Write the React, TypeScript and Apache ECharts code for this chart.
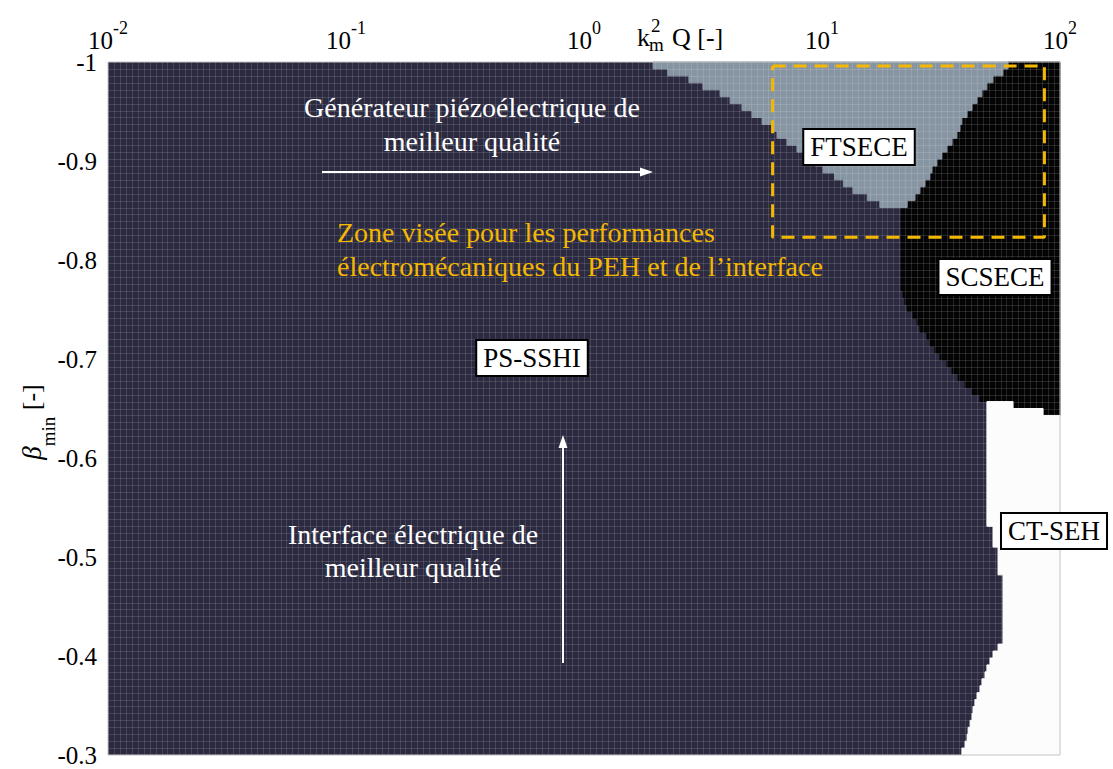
import React, { useEffect, useRef } from "react";
import * as echarts from "echarts";

// ---- axes ----
const kqMin = 0.01;
const kqMax = 100;
const betaMin = -1;
const betaMax = -0.3;
const betaTickStep = 0.1;

// ---- map grid resolution (100 rows in beta) ----
const rowStep = 0.007;
const rowCount = 100;
const colCount = 160;

// ---- region boundaries, one value of k²Q per beta row ----
// FTSECE : rows 0..20
const ftseceFirstRow = 0;
const ftseceLeft = [1.95, 2.25, 2.76, 3.16, 3.73, 4.11, 4.61, 5.08, 5.6, 6.17, 6.47, 7.13, 7.85, 8.65, 9.35, 10.1, 11.3, 12.3, 13.5, 15.5, 17.5];
const ftseceRight = [60.5, 57.6, 52.3, 49.3, 47.0, 44.8, 42.7, 40.7, 38.7, 38.0, 36.9, 35.2, 33.5, 31.9, 30.4, 29.0, 28.4, 27.1, 25.8, 24.6, 22.8];

// SCSECE : rows 0..50 (right edge = axis max)
const scseceFirstRow = 0;
const scseceLeft = [
  60.5, 57.6, 52.3, 49.3, 47.0, 44.8, 42.7, 40.7, 38.7, 38.0, 36.9, 35.2, 33.5, 31.9, 30.4, 29.0, 28.4, 27.1, 25.8, 24.6, 22.8,
  21.5, 21.5, 21.5, 21.5, 21.5, 21.5, 21.5, 21.5, 21.5, 21.5, 21.5, 21.5,
  21.9, 22.3, 22.8, 24.1, 25.1, 25.8, 27.6, 28.4, 29.8, 31.3, 33.5, 35.2, 37.3, 39.9, 42.7, 46.1,
  63.5, 84.9,
];

// CT-SEH : rows 49..99
const ctsehFirstRow = 49;
const ctsehLeft = [
  49.3, 49.3, 49.3, 49.3, 49.3, 49.3, 49.3, 49.3, 49.3, 49.3, 49.3, 49.3, 49.3, 49.3, 49.3, 49.3, 49.3, 49.3,
  52.3, 52.3, 52.3,
  54.9, 54.9, 54.9, 54.9,
  57.6, 57.6, 57.6, 57.6, 57.6, 57.6, 57.6, 57.6, 57.6, 57.6,
  54.9, 52.3, 50.8, 49.3, 48.4, 47.0, 46.1, 44.8, 43.9, 43.1, 42.7, 41.9, 41.1, 40.7, 39.9, 38.7,
];
const ctsehRightTop = [63.5, 84.9]; // rows 49, 50 (others reach axis max)

// ---- target zone (dashed rectangle) ----
const zoneKQ = [6.2, 86, 86, 6.2, 6.2];
const zoneBeta = [-0.996, -0.996, -0.823, -0.823, -0.996];

const NAVY = "#2b2a40";
const LIGHT = "#8794a2";
const BLACK = "#040404";
const WHITE = "#fcfcfc";
const ORANGE = "#F5B800";
const SERIF = '"Liberation Serif", "Times New Roman", serif';

function regionPoints(api: any, firstRow: number, left: number[], right: (number | undefined)[]) {
  const pts: number[][] = [];
  for (let i = 0; i < left.length; i++) {
    const b0 = betaMin + (firstRow + i) * rowStep;
    const b1 = betaMin + (firstRow + i + 1) * rowStep;
    pts.push(api.coord([left[i], b0]), api.coord([left[i], b1]));
  }
  for (let i = left.length - 1; i >= 0; i--) {
    const b0 = betaMin + (firstRow + i) * rowStep;
    const b1 = betaMin + (firstRow + i + 1) * rowStep;
    const r = right[i] !== undefined ? (right[i] as number) : kqMax;
    pts.push(api.coord([r, b1]), api.coord([r, b0]));
  }
  return pts;
}

function regionSeries(name: string, color: string, z: number, firstRow: number, left: number[], right: (number | undefined)[], stroke: boolean) {
  return {
    name,
    type: "custom",
    coordinateSystem: "cartesian2d",
    silent: true,
    z,
    data: [[1, -0.5]],
    renderItem: (_p: any, api: any) => ({
      type: "polygon",
      shape: { points: regionPoints(api, firstRow, left, right) },
      style: { fill: color, stroke: stroke ? color : null, lineWidth: stroke ? 1 : 0 },
    }),
  };
}

export default function App() {
  const ref = useRef<HTMLDivElement>(null);
  useEffect(() => {
    if (!ref.current) return;
    const chart = echarts.init(ref.current, undefined, { renderer: "svg" });

    const fullLeft: number[] = [];
    const fullRight: (number | undefined)[] = [];
    // PS-SSHI background spans every row of the map
    for (let i = 0; i < rowCount; i++) {
      fullLeft.push(kqMin);
      fullRight.push(kqMax);
    }

    const meshColor = "rgba(255,255,255,0.13)";

    const option: any = {
      animation: false,
      backgroundColor: "#ffffff",
      grid: {
        left: 108,
        right: 53,
        top: 62,
        bottom: 14,
        show: true,
        borderColor: "#c4c4c4",
        borderWidth: 1,
        backgroundColor: "transparent",
        z: 20,
      },
      xAxis: {
        type: "log",
        logBase: 10,
        min: kqMin,
        max: kqMax,
        position: "top",
        axisLine: { show: false },
        axisTick: { show: false },
        splitLine: { show: false },
        axisLabel: {
          margin: 9,
          showMinLabel: true,
          showMaxLabel: true,
          formatter: (v: number) => `{b|10}{s|${Math.round(Math.log10(v))}}`,
          rich: {
            b: { fontFamily: SERIF, fontSize: 25, color: "#000", lineHeight: 34, verticalAlign: "bottom" },
            s: { fontFamily: SERIF, fontSize: 18, color: "#000", lineHeight: 18, verticalAlign: "top" },
          },
        },
      },
      yAxis: {
        type: "value",
        inverse: true,
        min: betaMin,
        max: betaMax,
        interval: betaTickStep,
        axisLine: { show: false },
        axisTick: { show: false },
        splitLine: { show: false },
        axisLabel: {
          margin: 11,
          fontFamily: SERIF,
          fontSize: 25,
          color: "#000",
          formatter: (v: number) => String(Math.round(v * 10) / 10),
        },
      },
      series: [
        regionSeries("PS-SSHI", NAVY, 1, 0, fullLeft, fullRight, false),
        regionSeries("SCSECE", BLACK, 2, scseceFirstRow, scseceLeft, [], true),
        regionSeries("FTSECE", LIGHT, 3, ftseceFirstRow, ftseceLeft, ftseceRight, true),
        regionSeries("CT-SEH", WHITE, 4, ctsehFirstRow, ctsehLeft, ctsehRightTop, true),
        {
          name: "mesh",
          type: "custom",
          coordinateSystem: "cartesian2d",
          silent: true,
          z: 5,
          data: [[1, -0.5]],
          renderItem: (params: any, api: any) => {
            const cs = params.coordSys;
            const children: any[] = [];
            for (let i = 1; i < rowCount; i++) {
              const p = api.coord([kqMin, betaMin + i * rowStep]);
              const y = Math.round(p[1]) + 0.5;
              children.push({ type: "line", shape: { x1: cs.x, y1: y, x2: cs.x + cs.width, y2: y }, style: { stroke: meshColor, lineWidth: 1 } });
            }
            const lmin = Math.log10(kqMin);
            const lspan = Math.log10(kqMax) - lmin;
            for (let j = 1; j < colCount; j++) {
              const p = api.coord([Math.pow(10, lmin + (lspan * j) / colCount), betaMin]);
              const x = Math.round(p[0]) + 0.5;
              children.push({ type: "line", shape: { x1: x, y1: cs.y, x2: x, y2: cs.y + cs.height }, style: { stroke: meshColor, lineWidth: 1 } });
            }
            return { type: "group", children };
          },
        },
        {
          name: "Zone visée",
          type: "line",
          z: 6,
          symbol: "none",
          silent: true,
          data: zoneKQ.map((k, i) => [k, zoneBeta[i]]),
          lineStyle: { color: ORANGE, width: 3, type: [13, 8] },
        },
      ],
      graphic: [
        // axis names
        { type: "text", z: 100, x: 637, y: 37, style: { text: "k", font: `26px ${SERIF}`, fill: "#000", verticalAlign: "middle" } },
        { type: "text", z: 100, x: 651, y: 25, style: { text: "2", font: `19px ${SERIF}`, fill: "#000", verticalAlign: "middle" } },
        { type: "text", z: 100, x: 649, y: 44, style: { text: "m", font: `19px ${SERIF}`, fill: "#000", verticalAlign: "middle" } },
        { type: "text", z: 100, x: 672, y: 37, style: { text: "Q [-]", font: `26px ${SERIF}`, fill: "#000", verticalAlign: "middle" } },
        {
          type: "text",
          z: 100,
          x: 38,
          y: 422,
          rotation: Math.PI / 2,
          style: {
            text: "{b|β}{s|min}{n| [-]}",
            align: "center",
            verticalAlign: "middle",
            rich: {
              b: { font: `italic 27px ${SERIF}`, fill: "#000", lineHeight: 40, verticalAlign: "top" },
              s: { font: `19px ${SERIF}`, fill: "#000", lineHeight: 18, verticalAlign: "bottom" },
              n: { font: `26px ${SERIF}`, fill: "#000", lineHeight: 40, verticalAlign: "top" },
            },
          },
        },
        // annotations
        {
          type: "text",
          z: 100,
          x: 472,
          y: 124,
          style: { text: "Générateur piézoélectrique de\nmeilleur qualité", font: `28px ${SERIF}`, lineHeight: 34, fill: "#ffffff", align: "center", verticalAlign: "middle" },
        },
        { type: "line", z: 100, shape: { x1: 322, y1: 172, x2: 643, y2: 172 }, style: { stroke: "#ffffff", lineWidth: 2 } },
        { type: "polygon", z: 100, shape: { points: [[653, 172], [640, 167.5], [640, 176.5]] }, style: { fill: "#ffffff" } },
        {
          type: "text",
          z: 100,
          x: 337,
          y: 249,
          style: { text: "Zone visée pour les performances\nélectromécaniques du PEH et de l’interface", font: `28px ${SERIF}`, lineHeight: 34, fill: ORANGE, align: "left", verticalAlign: "middle" },
        },
        {
          type: "text",
          z: 100,
          x: 413,
          y: 551,
          style: { text: "Interface électrique de\nmeilleur qualité", font: `28px ${SERIF}`, lineHeight: 33, fill: "#ffffff", align: "center", verticalAlign: "middle" },
        },
        { type: "line", z: 100, shape: { x1: 563, y1: 663, x2: 563, y2: 446 }, style: { stroke: "#ffffff", lineWidth: 2 } },
        { type: "polygon", z: 100, shape: { points: [[563, 435], [558.5, 448], [567.5, 448]] }, style: { fill: "#ffffff" } },
        // region labels
        ...[
          { t: "FTSECE", x: 859, y: 147 },
          { t: "SCSECE", x: 995, y: 277 },
          { t: "CT-SEH", x: 1054, y: 531 },
          { t: "PS-SSHI", x: 532, y: 358 },
        ].map((l) => ({
          type: "text",
          z: 100,
          x: l.x,
          y: l.y,
          style: {
            text: l.t,
            font: `27px ${SERIF}`,
            fill: "#000",
            align: "center",
            verticalAlign: "middle",
            backgroundColor: "#ffffff",
            borderColor: "#000000",
            borderWidth: 2,
            padding: [3, 6, 2, 6],
            lineHeight: 29,
          },
        })),
      ],
    };

    chart.setOption(option);
    return () => chart.dispose();
  }, []);

  return <div ref={ref} style={{ position: "fixed", left: 0, top: 0, width: 1113, height: 769 }} />;
}
